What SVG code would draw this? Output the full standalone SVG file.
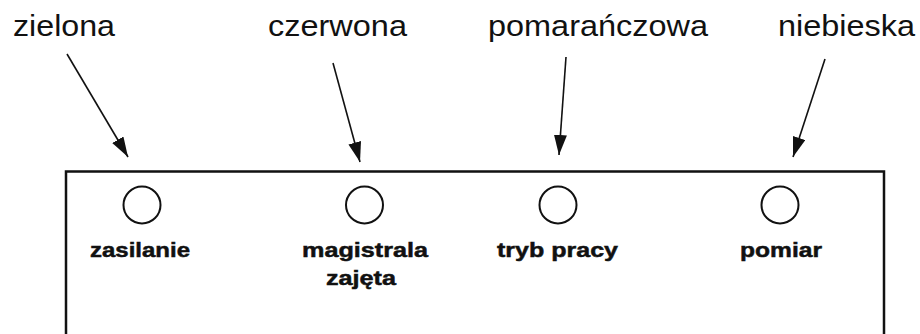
<svg xmlns="http://www.w3.org/2000/svg" width="920" height="334" viewBox="0 0 920 334">
  <style>
    .top { font-family: "Liberation Sans", Arial, sans-serif; font-size: 30px; fill: #111; }
    .lbl { font-family: "Liberation Sans", Arial, sans-serif; font-size: 21px; font-weight: bold; fill: #111; stroke: #111; stroke-width: 0.5; text-anchor: middle; }
    .led { fill: #fff; stroke: #111; stroke-width: 2; }
    .arrow { stroke: #111; stroke-width: 1.6; fill: none; marker-end: url(#head); }
    .panel { fill: none; stroke: #111; stroke-width: 2.5; }
  </style>
  <defs>
    <marker id="head" markerUnits="userSpaceOnUse" markerWidth="24" markerHeight="16" refX="20" refY="6.5" orient="auto">
      <path d="M0,0 L20,6.5 L0,13 Z" fill="#111"/>
    </marker>
  </defs>

  <rect width="920" height="334" fill="#fff"/>

  <!-- front panel outline (open at the bottom) -->
  <path class="panel" d="M66,334 V171.5 H884 V334"/>

  <!-- colour captions -->
  <g id="cap-green"><text class="top" x="13" y="36" textLength="102" lengthAdjust="spacingAndGlyphs">zielona</text></g>
  <g id="cap-red"><text class="top" x="268" y="36" textLength="139" lengthAdjust="spacingAndGlyphs">czerwona</text></g>
  <g id="cap-orange"><text class="top" x="488" y="36" textLength="220" lengthAdjust="spacingAndGlyphs">pomarańczowa</text></g>
  <g id="cap-blue"><text class="top" x="778" y="36" textLength="137" lengthAdjust="spacingAndGlyphs">niebieska</text></g>

  <!-- indicator lamps -->
  <g id="led-power">
    <circle class="led" cx="142" cy="205" r="18.5"/>
    <text class="lbl" x="140" y="257" textLength="100" lengthAdjust="spacingAndGlyphs">zasilanie</text>
  </g>
  <g id="led-bus">
    <circle class="led" cx="364.5" cy="205" r="18.5"/>
    <text class="lbl" x="365" y="257" textLength="126" lengthAdjust="spacingAndGlyphs">magistrala</text>
    <text class="lbl" x="361" y="285" textLength="70" lengthAdjust="spacingAndGlyphs">zajęta</text>
  </g>
  <g id="led-mode">
    <circle class="led" cx="558" cy="205" r="18.5"/>
    <text class="lbl" x="557.5" y="257" textLength="121" lengthAdjust="spacingAndGlyphs">tryb pracy</text>
  </g>
  <g id="led-measure">
    <circle class="led" cx="780" cy="205" r="18.5"/>
    <text class="lbl" x="781" y="257" textLength="82" lengthAdjust="spacingAndGlyphs">pomiar</text>
  </g>

  <!-- pointers from captions to lamps -->
  <g id="connectors">
    <line class="arrow" x1="67" y1="54" x2="128" y2="157"/>
    <line class="arrow" x1="333" y1="63" x2="360" y2="162"/>
    <line class="arrow" x1="566" y1="57" x2="559" y2="155"/>
    <line class="arrow" x1="825" y1="59" x2="793" y2="157"/>
  </g>
</svg>
